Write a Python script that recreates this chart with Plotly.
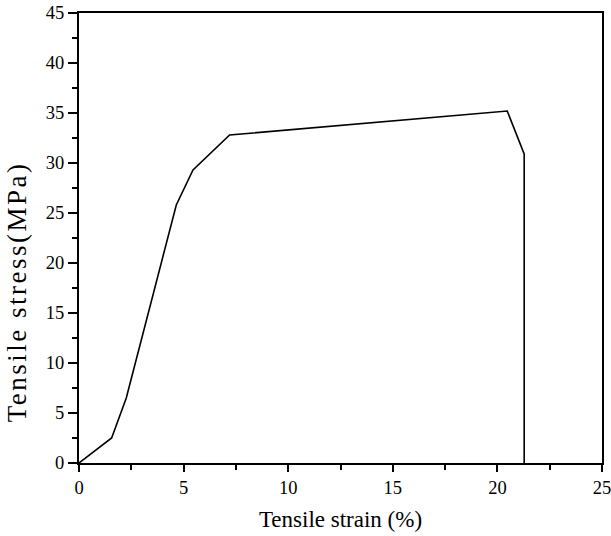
import plotly.graph_objects as go

strain = [0.0, 1.56, 2.26, 4.65, 5.45, 7.2, 20.47, 21.28, 21.28]
stress = [0.0, 2.5, 6.5, 25.8, 29.3, 32.8, 35.2, 30.9, 0.0]

x_ticks = [0, 5, 10, 15, 20, 25]
y_ticks = [0, 5, 10, 15, 20, 25, 30, 35, 40, 45]

font_family = "Liberation Serif, Times New Roman, serif"

fig = go.Figure()
fig.add_trace(go.Scatter(x=strain, y=stress, mode="lines",
                         line=dict(color="black", width=1.6),
                         showlegend=False, hoverinfo="skip"))

axis_common = dict(showgrid=False, zeroline=False, showline=True,
                   linecolor="black", linewidth=2, mirror=True,
                   ticks="outside", tickcolor="black", tickwidth=2,
                   automargin=False, ticklabeloverflow="allow",
                   tickfont=dict(family=font_family, size=18.5, color="black"))

fig.update_xaxes(range=[0, 25], tickvals=x_ticks, ticklen=7,
                 minor=dict(dtick=2.5, ticks="outside", ticklen=5,
                            tickwidth=2, tickcolor="black"),
                 title=dict(text="Tensile strain (%)",
                            font=dict(family=font_family, size=23, color="black"),
                            standoff=14),
                 **axis_common)
fig.update_yaxes(range=[0, 45], tickvals=y_ticks, ticklen=9,
                 minor=dict(dtick=2.5, ticks="outside", ticklen=5,
                            tickwidth=2, tickcolor="black"),
                 **axis_common)

fig.add_annotation(text='<span style="letter-spacing:2.5px">Tensile stress(MPa)</span>',
                   xref="paper", yref="paper", x=-0.118, y=0.38,
                   xanchor="center", yanchor="middle", textangle=-90,
                   showarrow=False,
                   font=dict(family=font_family, size=27, color="black"))

fig.update_layout(width=611, height=536,
                  margin=dict(l=79, r=9, t=13, b=73, autoexpand=False),
                  paper_bgcolor="white", plot_bgcolor="white")

fig.write_html("out.html",
               config={"displayModeBar": False, "staticPlot": True},
               post_script="document.body.style.margin='0';document.body.style.overflow='hidden';")
